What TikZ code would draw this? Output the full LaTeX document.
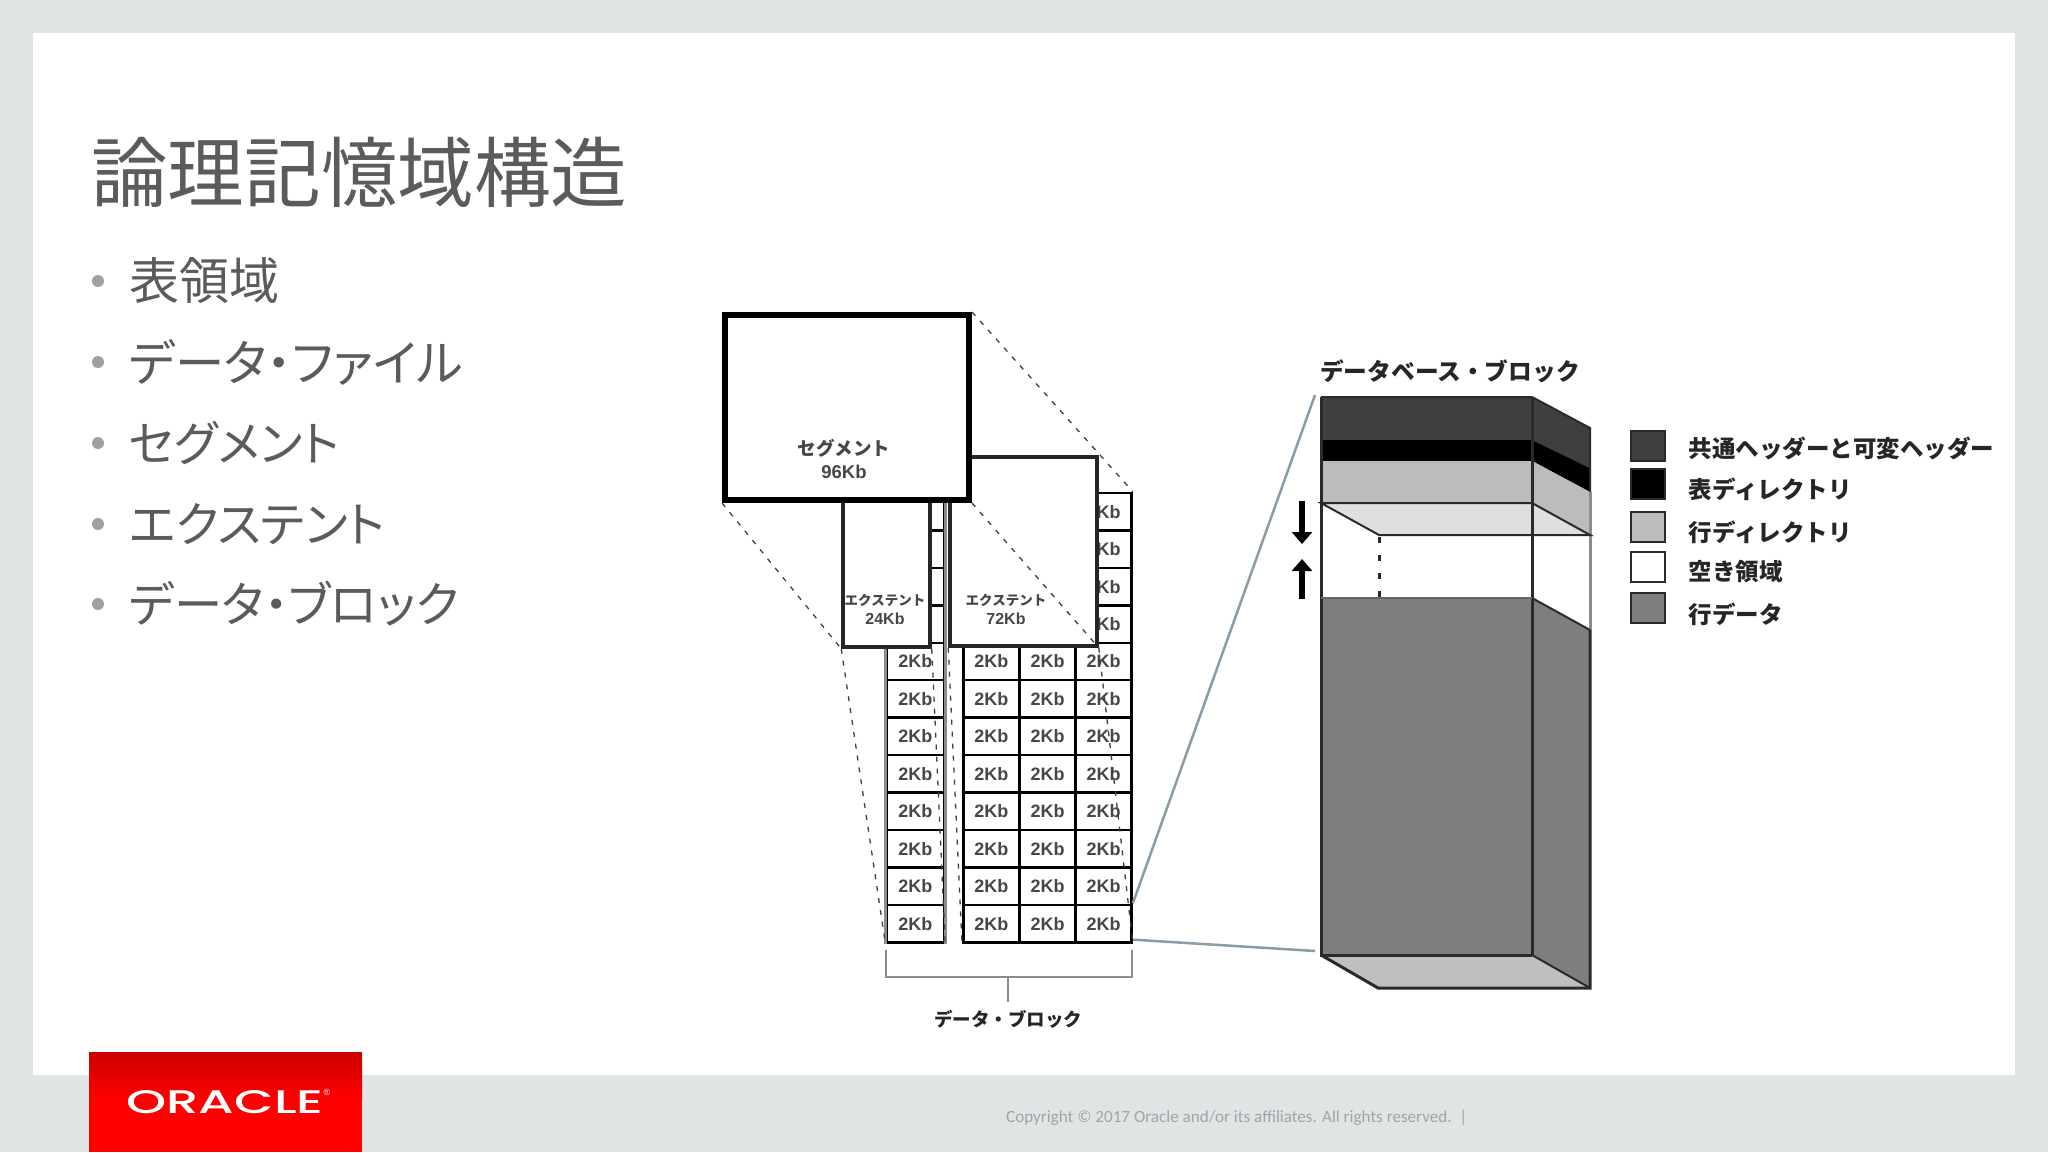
\documentclass[tikz,border=0pt]{standalone}
\usepackage{fontspec}
\setmainfont{Liberation Sans}
\newfontfamily\jpn{Noto Sans CJK JP}
\newfontfamily\jpnp[RawFeature={+palt}]{Noto Sans CJK JP}
\newfontfamily\foot{Carlito}
\newfontfamily\logofont{Poppins}[UprightFont={* Medium}]
\usetikzlibrary{arrows.meta}
\definecolor{slidebg}{HTML}{DFE5E4}
\definecolor{slidetext}{HTML}{5B5B5B}
\definecolor{bulletgray}{HTML}{A0A0A0}
\definecolor{footgray}{HTML}{A0A6A8}
\definecolor{linkblue}{HTML}{8A9CA6}
\definecolor{headgray}{HTML}{3F3F3F}
\definecolor{rowdirgray}{HTML}{BDBBBD}
\definecolor{freegray}{HTML}{E0DEE0}
\definecolor{datagray}{HTML}{7F7E7F}
\definecolor{floorgray}{HTML}{C0BEC0}
\definecolor{edgegray}{HTML}{2A2A2A}
\begin{document}
\begin{tikzpicture}[x=1pt,y=-1pt]
    \tikzstyle{blockbox}=[rectangle,draw=black,fill=white,line width=2.5pt,minimum width=56.1pt,minimum height=37.45pt,inner sep=0pt,text=black!72,font=\bfseries\fontsize{18}{20}\selectfont]
    \tikzstyle{extbox}=[rectangle,draw=black!85,fill=white,line width=3.5pt,inner sep=0pt]
    \tikzstyle{extlabel}=[align=center,inner sep=0pt,text=black!72,font=\bfseries\fontsize{16}{19}\selectfont]
    \tikzstyle{guide}=[line width=1.3pt,black!75,dash pattern=on 5pt off 7pt]
    \tikzstyle{linkline}=[line width=2.5pt,linkblue]
    \tikzstyle{bracket}=[line width=1.5pt,black!45]
    \tikzstyle{caplabel}=[inner sep=0pt,text=black!85,font=\jpn\bfseries\fontsize{18.5}{20}\selectfont]
    \tikzstyle{legendbox}=[rectangle,draw=edgegray,line width=2pt,minimum width=34pt,minimum height=30pt,inner sep=0pt]
    \tikzstyle{legendtext}=[anchor=west,inner sep=0pt,text=black!85,font=\jpn\bfseries\fontsize{23.5}{25}\selectfont]
    \tikzstyle{bullettext}=[anchor=west,inner sep=0pt,text=slidetext]

    \useasboundingbox (0,0) rectangle (2048,1152);
    \fill[slidebg] (0,0) rectangle (2048,1152);
    \fill[white] (33,32.5) rectangle (2015,1075);

    % slide text
    \node[anchor=west,inner sep=0pt,text=slidetext,font=\jpn\fontsize{76.6}{80}\selectfont] (title) at (91,172) {論理記憶域構造};
    \foreach \i/\y/\s/\txt in {1/281/50/表領域, 2/362/49.4/データ・ファイル, 3/443/47.9/セグメント, 4/524/48.3/エクステント, 5/604/48.3/データ・ブロック} {
        \node[circle,fill=bulletgray,inner sep=0pt,minimum size=12pt] (dot-\i) at (98,\y) {};
        \node[bullettext,font=\jpnp\fontsize{\s}{52}\selectfont] (item-\i) at (129,\y) {\txt};
    }

    % data blocks
    \foreach \r in {0,...,11} {
        \node[blockbox,minimum width=57.3pt] (B-L-\r) at (915.3,{511.7+37.45*\r}) {\ifnum\r<4 \else 2Kb\fi};
        \foreach \c/\x in {1/991.3, 2/1047.5}
            \node[blockbox] (B-\c-\r) at (\x,{511.7+37.45*\r}) {\ifnum\r<4 \else 2Kb\fi};
        \node[blockbox] (B-3-\r) at (1103.6,{511.7+37.45*\r}) {2Kb};
    }
    \draw[line width=3pt,black!45] (B-L-0.north west) -- (B-L-11.south west);
    \draw[line width=3pt,black!45] (B-L-0.north east) -- (B-L-11.south east);

    % extents and segment
    \node[extbox,minimum width=87pt,minimum height=190pt] (ext24) at (886.5,552) {};
    \node[extbox,minimum width=147pt,minimum height=189pt] (ext72) at (1023.5,551.5) {};
    \node[rectangle,draw=black,fill=white,line width=6pt,minimum width=244pt,minimum height=185pt,inner sep=0pt] (seg) at (847,407.5) {};
    \node[extlabel,font=\bfseries\fontsize{18.5}{23}\selectfont] (seg-label) at (844,459) {{\jpn\bfseries セグメント}\\96Kb};
    \node[extlabel] (ext24-label) at (885,609) {{\jpn\bfseries\fontsize{13.5}{19}\selectfont エクステント}\\24Kb};
    \node[extlabel] (ext72-label) at (1006,609) {{\jpn\bfseries\fontsize{13.5}{19}\selectfont エクステント}\\72Kb};

    \foreach \from/\to in {seg.north east/B-3-0.north east, seg.south east/ext72.south east, seg.south west/ext24.south west, ext24.south west/B-L-11.south west, ext24.south east/B-L-11.south east, ext72.south west/B-1-11.south west, ext72.south east/B-3-11.south east}
        \draw[guide] (\from) -- (\to);

    % bracket under the blocks
    \coordinate (brL) at (886,950);
    \coordinate (brR) at (1132,950);
    \coordinate (brLb) at (886,977);
    \coordinate (brRb) at (1132,977);
    \coordinate (brM) at (1008,977);
    \node[caplabel] (blocks-label) at (1008,1019) {データ・ブロック};
    \draw[bracket] (brL) -- (brLb) -- (brRb) -- (brR);
    \draw[bracket] (brM) -- (1008,1002);

    % database block
    \fill[headgray] (1321,397) rectangle (1532,440);
    \fill[black] (1321,440) rectangle (1532,461);
    \fill[rowdirgray] (1321,461) rectangle (1532,503);
    \fill[freegray] (1321,503) -- (1532,503) -- (1532,535) -- (1379,535) -- cycle;
    \fill[datagray] (1321,598) rectangle (1532,955);
    \fill[headgray] (1532,397) -- (1590,428) -- (1590,468) -- (1532,440) -- cycle;
    \fill[black] (1532,440) -- (1590,468) -- (1590,492) -- (1532,461) -- cycle;
    \fill[rowdirgray] (1532,461) -- (1590,492) -- (1590,535) -- (1532,503) -- cycle;
    \fill[freegray] (1532,503) -- (1590,535) -- (1532,535) -- cycle;
    \fill[datagray] (1532,598) -- (1590,630) -- (1590,988) -- (1532,955) -- cycle;
    \fill[floorgray] (1321,955) -- (1532,955) -- (1590,988) -- (1378,988) -- cycle;
    \draw[line width=3pt,edgegray] (1321,397) -- (1321,955) -- (1532,955);
    \draw[line width=3pt,edgegray] (1532,397) -- (1532,955);
    \draw[line width=2pt,edgegray] (1321,397) -- (1532,397) -- (1590,428) -- (1590,492);
    \draw[line width=3pt,black!45] (1590,492) -- (1590,630);
    \draw[line width=3pt,edgegray] (1590,630) -- (1590,988) -- (1378,988) -- (1321,955);
    \draw[line width=2pt,edgegray] (1532,955) -- (1590,988);
    \draw[line width=2pt,edgegray] (1321,503) -- (1532,503) -- (1590,535) -- (1379,535) -- cycle;
    \draw[line width=2pt,edgegray] (1532,598) -- (1590,630);
    \draw[line width=2pt,black!60] (1321,598) -- (1532,598);
    \draw[line width=3pt,edgegray,dash pattern=on 6pt off 12pt] (1379,537) -- (1379,598);
    \node[caplabel,font=\jpn\bfseries\fontsize{23.7}{25}\selectfont] (db-label) at (1450,371) {データベース・ブロック};

    \coordinate (ptrA) at (1302,501);
    \coordinate (ptrB) at (1302,544);
    \coordinate (ptrC) at (1302,599);
    \coordinate (ptrD) at (1302,559);
    \draw[line width=6pt,-{Triangle[length=12pt,width=20pt]}] (ptrA) -- (ptrB);
    \draw[line width=6pt,-{Triangle[length=12pt,width=20pt]}] (ptrC) -- (ptrD);

    \coordinate (dbtop) at (1315,395);
    \coordinate (dbbot) at (1315,951);
    \draw[linkline] ([yshift=3pt]B-3-10.south east) -- (dbtop);
    \draw[linkline] ([yshift=4pt]B-3-11.south east) -- (dbbot);

    % legend
    \foreach \n/\y/\ty/\col/\txt in {0/445.5/448.5/headgray/共通ヘッダーと可変ヘッダー, 1/484/489.5/black/表ディレクトリ, 2/526.5/532.5/rowdirgray/行ディレクトリ, 3/567/571.5/white/空き領域, 4/608/614/datagray/行データ} {
        \node[legendbox,fill=\col] (key-\n) at (1648,\y) {};
        \node[legendtext] (keytext-\n) at (1688.5,\ty) {\txt};
    }

    % footer and logo
    \node[anchor=west,inner sep=0pt,text=footgray,font=\foot\fontsize{17.1}{20}\selectfont] (copyright) at (1006,1118) {Copyright © 2017 Oracle and/or its affiliates. All rights reserved.\ \ |};
    \fill[red] (89,1052) rectangle (362,1152);
    \shade[top color=red!80!black,bottom color=red] (89,1052) rectangle (362,1100);
    \node[inner sep=0pt,text=white] (logo) at (225,1102) {\resizebox{197pt}{23pt}{\logofont ORACLE}};
    \node[inner sep=0pt,text=white,font=\fontsize{9}{10}\selectfont] (logo-r) at (327,1092) {®};
\end{tikzpicture}
\end{document}
